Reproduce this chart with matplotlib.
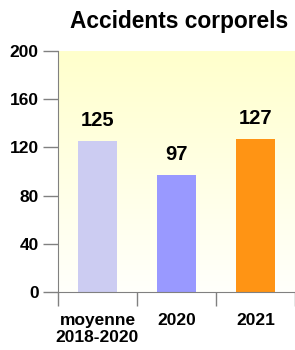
import numpy as np
import matplotlib.pyplot as plt

plt.rcParams['font.family'] = ['Liberation Sans', 'DejaVu Sans']

categories = ["moyenne\n2018-2020", "2020", "2021"]
values = [125, 97, 127]
colors = ["#ccccf2", "#9999ff", "#ff9414"]
yticks = [0, 40, 80, 120, 160, 200]

fig = plt.figure(figsize=(2.95, 3.5), dpi=100)
ax = fig.add_axes([58/295, 58/350, 237/295, 241/350])

# fond dégradé jaune -> blanc
grad = np.linspace(0, 1, 256).reshape(-1, 1)
top = np.array([1.0, 1.0, 0.80])
bot = np.array([1.0, 1.0, 0.985])
img = top * (1 - grad[..., None]) + bot * grad[..., None]
ax.imshow(img, extent=[0, 1, 0, 1], transform=ax.transAxes, aspect='auto', zorder=0)

x = np.arange(len(categories))
bars = ax.bar(x, values, width=0.5, color=colors, zorder=2)
for b, v in zip(bars, values):
    ax.annotate(str(v), (b.get_x() + b.get_width()/2, v), xytext=(0, 8),
                textcoords='offset points', ha='center', va='bottom',
                fontsize=14.5, fontweight='bold')

ax.set_xlim(-0.5, len(categories) - 0.5)
ax.set_ylim(0, 200)
ax.set_yticks(yticks)
ax.set_yticklabels([str(t) for t in yticks], fontsize=12.5, fontweight='bold')
ax.set_xticks(x)
ax.set_xticklabels(categories, fontsize=12.5, fontweight='bold')
ax.tick_params(axis='x', length=0, pad=15)
ax.set_xticks(np.arange(-0.5, len(categories)), minor=True)
ax.tick_params(axis='x', which='minor', length=10, color='#808080', width=1)
ax.tick_params(axis='y', length=11, color='#808080', width=1, pad=3)

for s in ['top', 'right']:
    ax.spines[s].set_visible(False)
for s in ['left', 'bottom']:
    ax.spines[s].set_color('#808080')

fig.text(179/295, 1 - 28/350, "Accidents corporels", ha='center', va='baseline',
         fontsize=16.4, fontweight='bold')

fig.savefig("out.png", dpi=100)
